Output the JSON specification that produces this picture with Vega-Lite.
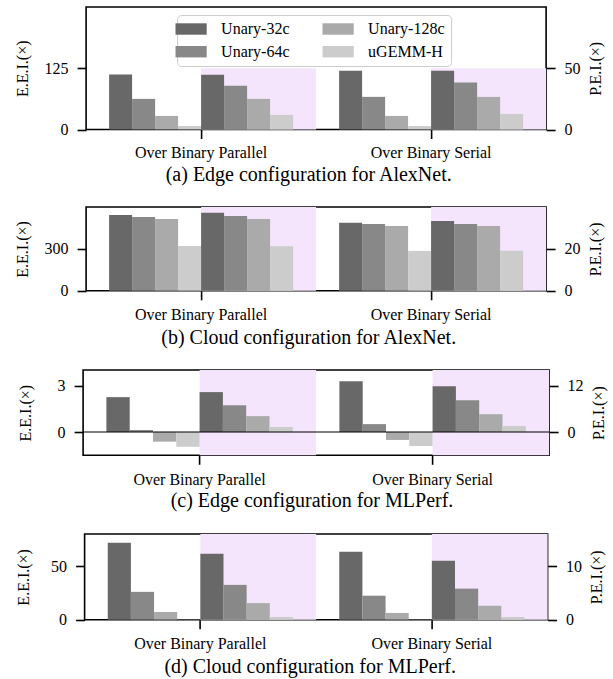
{
  "$schema": "https://vega.github.io/schema/vega-lite/v6.json",
  "padding": {"left": 13, "top": 6, "right": 5, "bottom": 5},
  "spacing": 20,
  "center": true,
  "config": {
    "font": "Liberation Serif",
    "view": {"stroke": "black", "strokeWidth": 1.6},
    "axis": {"labelFont": "Liberation Serif", "labelFontSize": 16, "labelColor": "black", "titleFont": "Liberation Serif", "titleFontSize": 16, "titleFontWeight": "normal", "titleColor": "black", "tickColor": "black", "tickWidth": 1.6, "tickSize": 9, "domain": false, "grid": false, "labelPadding": 9},
    "title": {"font": "Liberation Serif", "fontSize": 20, "fontWeight": "normal", "color": "black"},
    "legend": {"labelFont": "Liberation Serif", "labelFontSize": 16, "labelColor": "black"}
  },
  "datasets": {
    "a": [
      {"group": "Over Binary Parallel", "metric": "E.E.I.", "config": "Unary-32c", "bar": "E.E.I. Unary-32c", "value": 112},
      {"group": "Over Binary Parallel", "metric": "E.E.I.", "config": "Unary-64c", "bar": "E.E.I. Unary-64c", "value": 62.5},
      {"group": "Over Binary Parallel", "metric": "E.E.I.", "config": "Unary-128c", "bar": "E.E.I. Unary-128c", "value": 27.7},
      {"group": "Over Binary Parallel", "metric": "E.E.I.", "config": "uGEMM-H", "bar": "E.E.I. uGEMM-H", "value": 7.2},
      {"group": "Over Binary Parallel", "metric": "P.E.I.", "config": "Unary-32c", "bar": "P.E.I. Unary-32c", "value": 44.7},
      {"group": "Over Binary Parallel", "metric": "P.E.I.", "config": "Unary-64c", "bar": "P.E.I. Unary-64c", "value": 35.7},
      {"group": "Over Binary Parallel", "metric": "P.E.I.", "config": "Unary-128c", "bar": "P.E.I. Unary-128c", "value": 25},
      {"group": "Over Binary Parallel", "metric": "P.E.I.", "config": "uGEMM-H", "bar": "P.E.I. uGEMM-H", "value": 11.9},
      {"group": "Over Binary Serial", "metric": "E.E.I.", "config": "Unary-32c", "bar": "E.E.I. Unary-32c", "value": 120},
      {"group": "Over Binary Serial", "metric": "E.E.I.", "config": "Unary-64c", "bar": "E.E.I. Unary-64c", "value": 66.6},
      {"group": "Over Binary Serial", "metric": "E.E.I.", "config": "Unary-128c", "bar": "E.E.I. Unary-128c", "value": 27.7},
      {"group": "Over Binary Serial", "metric": "E.E.I.", "config": "uGEMM-H", "bar": "E.E.I. uGEMM-H", "value": 7.2},
      {"group": "Over Binary Serial", "metric": "P.E.I.", "config": "Unary-32c", "bar": "P.E.I. Unary-32c", "value": 48},
      {"group": "Over Binary Serial", "metric": "P.E.I.", "config": "Unary-64c", "bar": "P.E.I. Unary-64c", "value": 38.4},
      {"group": "Over Binary Serial", "metric": "P.E.I.", "config": "Unary-128c", "bar": "P.E.I. Unary-128c", "value": 26.6},
      {"group": "Over Binary Serial", "metric": "P.E.I.", "config": "uGEMM-H", "bar": "P.E.I. uGEMM-H", "value": 12.7}
    ],
    "b": [
      {"group": "Over Binary Parallel", "metric": "E.E.I.", "config": "Unary-32c", "bar": "E.E.I. Unary-32c", "value": 543},
      {"group": "Over Binary Parallel", "metric": "E.E.I.", "config": "Unary-64c", "bar": "E.E.I. Unary-64c", "value": 529},
      {"group": "Over Binary Parallel", "metric": "E.E.I.", "config": "Unary-128c", "bar": "E.E.I. Unary-128c", "value": 514},
      {"group": "Over Binary Parallel", "metric": "E.E.I.", "config": "uGEMM-H", "bar": "E.E.I. uGEMM-H", "value": 320},
      {"group": "Over Binary Parallel", "metric": "P.E.I.", "config": "Unary-32c", "bar": "P.E.I. Unary-32c", "value": 37.3},
      {"group": "Over Binary Parallel", "metric": "P.E.I.", "config": "Unary-64c", "bar": "P.E.I. Unary-64c", "value": 35.7},
      {"group": "Over Binary Parallel", "metric": "P.E.I.", "config": "Unary-128c", "bar": "P.E.I. Unary-128c", "value": 34.3},
      {"group": "Over Binary Parallel", "metric": "P.E.I.", "config": "uGEMM-H", "bar": "P.E.I. uGEMM-H", "value": 21.3},
      {"group": "Over Binary Serial", "metric": "E.E.I.", "config": "Unary-32c", "bar": "E.E.I. Unary-32c", "value": 488},
      {"group": "Over Binary Serial", "metric": "E.E.I.", "config": "Unary-64c", "bar": "E.E.I. Unary-64c", "value": 478},
      {"group": "Over Binary Serial", "metric": "E.E.I.", "config": "Unary-128c", "bar": "E.E.I. Unary-128c", "value": 464},
      {"group": "Over Binary Serial", "metric": "E.E.I.", "config": "uGEMM-H", "bar": "E.E.I. uGEMM-H", "value": 286},
      {"group": "Over Binary Serial", "metric": "P.E.I.", "config": "Unary-32c", "bar": "P.E.I. Unary-32c", "value": 33.3},
      {"group": "Over Binary Serial", "metric": "P.E.I.", "config": "Unary-64c", "bar": "P.E.I. Unary-64c", "value": 31.9},
      {"group": "Over Binary Serial", "metric": "P.E.I.", "config": "Unary-128c", "bar": "P.E.I. Unary-128c", "value": 30.9},
      {"group": "Over Binary Serial", "metric": "P.E.I.", "config": "uGEMM-H", "bar": "P.E.I. uGEMM-H", "value": 19.1}
    ],
    "c": [
      {"group": "Over Binary Parallel", "metric": "E.E.I.", "config": "Unary-32c", "bar": "E.E.I. Unary-32c", "value": 2.25},
      {"group": "Over Binary Parallel", "metric": "E.E.I.", "config": "Unary-64c", "bar": "E.E.I. Unary-64c", "value": 0.13},
      {"group": "Over Binary Parallel", "metric": "E.E.I.", "config": "Unary-128c", "bar": "E.E.I. Unary-128c", "value": -0.62},
      {"group": "Over Binary Parallel", "metric": "E.E.I.", "config": "uGEMM-H", "bar": "E.E.I. uGEMM-H", "value": -0.95},
      {"group": "Over Binary Parallel", "metric": "P.E.I.", "config": "Unary-32c", "bar": "P.E.I. Unary-32c", "value": 10.3},
      {"group": "Over Binary Parallel", "metric": "P.E.I.", "config": "Unary-64c", "bar": "P.E.I. Unary-64c", "value": 6.9},
      {"group": "Over Binary Parallel", "metric": "P.E.I.", "config": "Unary-128c", "bar": "P.E.I. Unary-128c", "value": 4.1},
      {"group": "Over Binary Parallel", "metric": "P.E.I.", "config": "uGEMM-H", "bar": "P.E.I. uGEMM-H", "value": 1.3},
      {"group": "Over Binary Serial", "metric": "E.E.I.", "config": "Unary-32c", "bar": "E.E.I. Unary-32c", "value": 3.28},
      {"group": "Over Binary Serial", "metric": "E.E.I.", "config": "Unary-64c", "bar": "E.E.I. Unary-64c", "value": 0.51},
      {"group": "Over Binary Serial", "metric": "E.E.I.", "config": "Unary-128c", "bar": "E.E.I. Unary-128c", "value": -0.51},
      {"group": "Over Binary Serial", "metric": "E.E.I.", "config": "uGEMM-H", "bar": "E.E.I. uGEMM-H", "value": -0.9},
      {"group": "Over Binary Serial", "metric": "P.E.I.", "config": "Unary-32c", "bar": "P.E.I. Unary-32c", "value": 11.8},
      {"group": "Over Binary Serial", "metric": "P.E.I.", "config": "Unary-64c", "bar": "P.E.I. Unary-64c", "value": 8.2},
      {"group": "Over Binary Serial", "metric": "P.E.I.", "config": "Unary-128c", "bar": "P.E.I. Unary-128c", "value": 4.6},
      {"group": "Over Binary Serial", "metric": "P.E.I.", "config": "uGEMM-H", "bar": "P.E.I. uGEMM-H", "value": 1.55}
    ],
    "d": [
      {"group": "Over Binary Parallel", "metric": "E.E.I.", "config": "Unary-32c", "bar": "E.E.I. Unary-32c", "value": 71.8},
      {"group": "Over Binary Parallel", "metric": "E.E.I.", "config": "Unary-64c", "bar": "E.E.I. Unary-64c", "value": 26},
      {"group": "Over Binary Parallel", "metric": "E.E.I.", "config": "Unary-128c", "bar": "E.E.I. Unary-128c", "value": 7.2},
      {"group": "Over Binary Parallel", "metric": "E.E.I.", "config": "uGEMM-H", "bar": "E.E.I. uGEMM-H", "value": 0.3},
      {"group": "Over Binary Parallel", "metric": "P.E.I.", "config": "Unary-32c", "bar": "P.E.I. Unary-32c", "value": 12.3},
      {"group": "Over Binary Parallel", "metric": "P.E.I.", "config": "Unary-64c", "bar": "P.E.I. Unary-64c", "value": 6.5},
      {"group": "Over Binary Parallel", "metric": "P.E.I.", "config": "Unary-128c", "bar": "P.E.I. Unary-128c", "value": 3.1},
      {"group": "Over Binary Parallel", "metric": "P.E.I.", "config": "uGEMM-H", "bar": "P.E.I. uGEMM-H", "value": 0.5},
      {"group": "Over Binary Serial", "metric": "E.E.I.", "config": "Unary-32c", "bar": "E.E.I. Unary-32c", "value": 63.5},
      {"group": "Over Binary Serial", "metric": "E.E.I.", "config": "Unary-64c", "bar": "E.E.I. Unary-64c", "value": 22.4},
      {"group": "Over Binary Serial", "metric": "E.E.I.", "config": "Unary-128c", "bar": "E.E.I. Unary-128c", "value": 6.3},
      {"group": "Over Binary Serial", "metric": "E.E.I.", "config": "uGEMM-H", "bar": "E.E.I. uGEMM-H", "value": 0.3},
      {"group": "Over Binary Serial", "metric": "P.E.I.", "config": "Unary-32c", "bar": "P.E.I. Unary-32c", "value": 11},
      {"group": "Over Binary Serial", "metric": "P.E.I.", "config": "Unary-64c", "bar": "P.E.I. Unary-64c", "value": 5.8},
      {"group": "Over Binary Serial", "metric": "P.E.I.", "config": "Unary-128c", "bar": "P.E.I. Unary-128c", "value": 2.6},
      {"group": "Over Binary Serial", "metric": "P.E.I.", "config": "uGEMM-H", "bar": "P.E.I. uGEMM-H", "value": 0.5}
    ],
    "pinkA": [
      {"group": "Over Binary Parallel", "side": "P.E.I.", "lo": 0, "hi": 125},
      {"group": "Over Binary Serial", "side": "P.E.I.", "lo": 0, "hi": 125}
    ],
    "pinkB": [
      {"group": "Over Binary Parallel", "side": "P.E.I.", "lo": 0, "hi": 600},
      {"group": "Over Binary Serial", "side": "P.E.I.", "lo": 0, "hi": 600}
    ],
    "pinkC": [
      {"group": "Over Binary Parallel", "side": "P.E.I.", "lo": -1.5, "hi": 4},
      {"group": "Over Binary Serial", "side": "P.E.I.", "lo": -1.5, "hi": 4}
    ],
    "pinkD": [
      {"group": "Over Binary Parallel", "side": "P.E.I.", "lo": 0, "hi": 80},
      {"group": "Over Binary Serial", "side": "P.E.I.", "lo": 0, "hi": 80}
    ],
    "zeroC": [{"level": 0}]
  },
  "vconcat": [
    {
      "width": 460, "height": 122.5,
      "title": {"text": "(a) Edge configuration for AlexNet.", "orient": "bottom", "anchor": "middle", "frame": "bounds", "offset": 4},
      "layer": [
        {"data": {"name": "pinkA"}, "mark": {"type": "bar", "color": "#f4e4fc"},
         "encoding": {
           "x": {"field": "group", "type": "nominal", "sort": null, "scale": {"paddingInner": 0, "paddingOuter": 0}, "axis": {"title": null, "labelAngle": 0, "labelPadding": 6}},
           "xOffset": {"field": "side", "type": "nominal", "scale": {"domain": ["E.E.I.", "P.E.I."], "paddingInner": 0, "paddingOuter": 0}},
           "y": {"field": "lo", "type": "quantitative", "scale": {"domain": [0, 250], "nice": false}, "axis": null},
           "y2": {"field": "hi"}}},
        {"data": {"name": "a"}, "transform": [{"filter": "datum.metric == 'E.E.I.'"}], "mark": "bar",
         "encoding": {
           "x": {"field": "group", "type": "nominal", "sort": null},
           "xOffset": {"field": "bar", "type": "nominal", "scale": {"domain": ["E.E.I. Unary-32c", "E.E.I. Unary-64c", "E.E.I. Unary-128c", "E.E.I. uGEMM-H", "P.E.I. Unary-32c", "P.E.I. Unary-64c", "P.E.I. Unary-128c", "P.E.I. uGEMM-H"], "paddingInner": 0, "paddingOuter": 1}},
           "y": {"field": "value", "type": "quantitative", "scale": {"domain": [0, 250], "nice": false}, "axis": {"orient": "left", "title": "E.E.I.(×)", "values": [0, 125], "minExtent": 51.8, "maxExtent": 51.8, "titlePadding": 4}},
           "color": {"field": "config", "type": "nominal", "scale": {"domain": ["Unary-32c", "Unary-64c", "Unary-128c", "uGEMM-H"], "range": ["#686868", "#888888", "#aaaaaa", "#cccccc"]},
             "legend": {"orient": "none", "legendX": 91, "legendY": 8, "columns": 2, "title": null, "symbolType": "M-2.6,-0.95H2.6V0.95H-2.6Z", "symbolSize": 144, "symbolStrokeWidth": 0, "symbolOpacity": 1, "labelOffset": 22, "rowPadding": 6.7, "columnPadding": 32, "padding": 6, "strokeColor": "#cccccc", "cornerRadius": 4, "fillColor": "rgba(255,255,255,0.8)"}}}},
        {"data": {"name": "a"}, "transform": [{"filter": "datum.metric == 'P.E.I.'"}], "mark": "bar",
         "encoding": {
           "x": {"field": "group", "type": "nominal", "sort": null},
           "xOffset": {"field": "bar", "type": "nominal", "scale": {"domain": ["E.E.I. Unary-32c", "E.E.I. Unary-64c", "E.E.I. Unary-128c", "E.E.I. uGEMM-H", "P.E.I. Unary-32c", "P.E.I. Unary-64c", "P.E.I. Unary-128c", "P.E.I. uGEMM-H"], "paddingInner": 0, "paddingOuter": 1}},
           "y": {"field": "value", "type": "quantitative", "scale": {"domain": [0, 100], "nice": false}, "axis": {"orient": "right", "title": "P.E.I.(×)", "values": [0, 50], "titleAngle": 270, "titleBaseline": "top", "minExtent": 37, "maxExtent": 37, "titlePadding": 4}},
           "color": {"field": "config", "type": "nominal"}}}
      ],
      "resolve": {"scale": {"y": "independent", "xOffset": "independent"}}
    },
    {
      "width": 460, "height": 83.8,
      "title": {"text": "(b) Cloud configuration for AlexNet.", "orient": "bottom", "anchor": "middle", "frame": "bounds", "offset": 5},
      "layer": [
        {"data": {"name": "pinkB"}, "mark": {"type": "bar", "color": "#f4e4fc"},
         "encoding": {
           "x": {"field": "group", "type": "nominal", "sort": null, "scale": {"paddingInner": 0, "paddingOuter": 0}, "axis": {"title": null, "labelAngle": 0, "labelPadding": 7}},
           "xOffset": {"field": "side", "type": "nominal", "scale": {"domain": ["E.E.I.", "P.E.I."], "paddingInner": 0, "paddingOuter": 0}},
           "y": {"field": "lo", "type": "quantitative", "scale": {"domain": [0, 600], "nice": false}, "axis": null},
           "y2": {"field": "hi"}}},
        {"data": {"name": "b"}, "transform": [{"filter": "datum.metric == 'E.E.I.'"}], "mark": "bar",
         "encoding": {
           "x": {"field": "group", "type": "nominal", "sort": null},
           "xOffset": {"field": "bar", "type": "nominal", "scale": {"domain": ["E.E.I. Unary-32c", "E.E.I. Unary-64c", "E.E.I. Unary-128c", "E.E.I. uGEMM-H", "P.E.I. Unary-32c", "P.E.I. Unary-64c", "P.E.I. Unary-128c", "P.E.I. uGEMM-H"], "paddingInner": 0, "paddingOuter": 1}},
           "y": {"field": "value", "type": "quantitative", "scale": {"domain": [0, 600], "nice": false}, "axis": {"orient": "left", "title": "E.E.I.(×)", "values": [0, 300], "minExtent": 51.8, "maxExtent": 51.8, "titlePadding": 4}},
           "color": {"field": "config", "type": "nominal", "scale": {"domain": ["Unary-32c", "Unary-64c", "Unary-128c", "uGEMM-H"], "range": ["#686868", "#888888", "#aaaaaa", "#cccccc"]}, "legend": null}}},
        {"data": {"name": "b"}, "transform": [{"filter": "datum.metric == 'P.E.I.'"}], "mark": "bar",
         "encoding": {
           "x": {"field": "group", "type": "nominal", "sort": null},
           "xOffset": {"field": "bar", "type": "nominal", "scale": {"domain": ["E.E.I. Unary-32c", "E.E.I. Unary-64c", "E.E.I. Unary-128c", "E.E.I. uGEMM-H", "P.E.I. Unary-32c", "P.E.I. Unary-64c", "P.E.I. Unary-128c", "P.E.I. uGEMM-H"], "paddingInner": 0, "paddingOuter": 1}},
           "y": {"field": "value", "type": "quantitative", "scale": {"domain": [0, 40], "nice": false}, "axis": {"orient": "right", "title": "P.E.I.(×)", "values": [0, 20], "titleAngle": 270, "titleBaseline": "top", "minExtent": 37, "maxExtent": 37, "titlePadding": 4}},
           "color": {"field": "config", "type": "nominal", "legend": null}}}
      ],
      "resolve": {"scale": {"y": "independent", "xOffset": "independent"}}
    },
    {
      "width": 466, "height": 85.3,
      "title": {"text": "(c) Edge configuration for MLPerf.", "orient": "bottom", "anchor": "middle", "frame": "bounds", "offset": 4},
      "layer": [
        {"data": {"name": "pinkC"}, "mark": {"type": "bar", "color": "#f4e4fc"},
         "encoding": {
           "x": {"field": "group", "type": "nominal", "sort": null, "scale": {"paddingInner": 0, "paddingOuter": 0}, "axis": {"title": null, "labelAngle": 0, "labelPadding": 7}},
           "xOffset": {"field": "side", "type": "nominal", "scale": {"domain": ["E.E.I.", "P.E.I."], "paddingInner": 0, "paddingOuter": 0}},
           "y": {"field": "lo", "type": "quantitative", "scale": {"domain": [-1.5, 4], "nice": false}, "axis": null},
           "y2": {"field": "hi"}}},
        {"data": {"name": "c"}, "transform": [{"filter": "datum.metric == 'E.E.I.'"}], "mark": "bar",
         "encoding": {
           "x": {"field": "group", "type": "nominal", "sort": null},
           "xOffset": {"field": "bar", "type": "nominal", "scale": {"domain": ["E.E.I. Unary-32c", "E.E.I. Unary-64c", "E.E.I. Unary-128c", "E.E.I. uGEMM-H", "P.E.I. Unary-32c", "P.E.I. Unary-64c", "P.E.I. Unary-128c", "P.E.I. uGEMM-H"], "paddingInner": 0, "paddingOuter": 1}},
           "y": {"field": "value", "type": "quantitative", "scale": {"domain": [-1.5, 4], "nice": false}, "axis": {"orient": "left", "title": "E.E.I.(×)", "values": [0, 3], "minExtent": 45.2, "maxExtent": 45.2, "titlePadding": 4}},
           "color": {"field": "config", "type": "nominal", "scale": {"domain": ["Unary-32c", "Unary-64c", "Unary-128c", "uGEMM-H"], "range": ["#686868", "#888888", "#aaaaaa", "#cccccc"]}, "legend": null}}},
        {"data": {"name": "c"}, "transform": [{"filter": "datum.metric == 'P.E.I.'"}], "mark": "bar",
         "encoding": {
           "x": {"field": "group", "type": "nominal", "sort": null},
           "xOffset": {"field": "bar", "type": "nominal", "scale": {"domain": ["E.E.I. Unary-32c", "E.E.I. Unary-64c", "E.E.I. Unary-128c", "E.E.I. uGEMM-H", "P.E.I. Unary-32c", "P.E.I. Unary-64c", "P.E.I. Unary-128c", "P.E.I. uGEMM-H"], "paddingInner": 0, "paddingOuter": 1}},
           "y": {"field": "value", "type": "quantitative", "scale": {"domain": [-6, 16], "nice": false}, "axis": {"orient": "right", "title": "P.E.I.(×)", "values": [0, 12], "titleAngle": 270, "titleBaseline": "top", "minExtent": 37, "maxExtent": 37, "titlePadding": 4}},
           "color": {"field": "config", "type": "nominal", "legend": null}}},
        {"data": {"name": "zeroC"}, "mark": {"type": "rule", "color": "black", "strokeWidth": 1.1},
         "encoding": {"y": {"field": "level", "type": "quantitative", "scale": {"domain": [-1.5, 4], "nice": false}, "axis": null}}}
      ],
      "resolve": {"scale": {"y": "independent", "xOffset": "independent"}}
    },
    {
      "width": 463, "height": 85.7,
      "title": {"text": "(d) Cloud configuration for MLPerf.", "orient": "bottom", "anchor": "middle", "frame": "bounds", "offset": 5},
      "layer": [
        {"data": {"name": "pinkD"}, "mark": {"type": "bar", "color": "#f4e4fc"},
         "encoding": {
           "x": {"field": "group", "type": "nominal", "sort": null, "scale": {"paddingInner": 0, "paddingOuter": 0}, "axis": {"title": null, "labelAngle": 0, "labelPadding": 7}},
           "xOffset": {"field": "side", "type": "nominal", "scale": {"domain": ["E.E.I.", "P.E.I."], "paddingInner": 0, "paddingOuter": 0}},
           "y": {"field": "lo", "type": "quantitative", "scale": {"domain": [0, 80], "nice": false}, "axis": null},
           "y2": {"field": "hi"}}},
        {"data": {"name": "d"}, "transform": [{"filter": "datum.metric == 'E.E.I.'"}], "mark": "bar",
         "encoding": {
           "x": {"field": "group", "type": "nominal", "sort": null},
           "xOffset": {"field": "bar", "type": "nominal", "scale": {"domain": ["E.E.I. Unary-32c", "E.E.I. Unary-64c", "E.E.I. Unary-128c", "E.E.I. uGEMM-H", "P.E.I. Unary-32c", "P.E.I. Unary-64c", "P.E.I. Unary-128c", "P.E.I. uGEMM-H"], "paddingInner": 0, "paddingOuter": 1}},
           "y": {"field": "value", "type": "quantitative", "scale": {"domain": [0, 80], "nice": false}, "axis": {"orient": "left", "title": "E.E.I.(×)", "values": [0, 50], "minExtent": 48.8, "maxExtent": 48.8, "titlePadding": 4}},
           "color": {"field": "config", "type": "nominal", "scale": {"domain": ["Unary-32c", "Unary-64c", "Unary-128c", "uGEMM-H"], "range": ["#686868", "#888888", "#aaaaaa", "#cccccc"]}, "legend": null}}},
        {"data": {"name": "d"}, "transform": [{"filter": "datum.metric == 'P.E.I.'"}], "mark": "bar",
         "encoding": {
           "x": {"field": "group", "type": "nominal", "sort": null},
           "xOffset": {"field": "bar", "type": "nominal", "scale": {"domain": ["E.E.I. Unary-32c", "E.E.I. Unary-64c", "E.E.I. Unary-128c", "E.E.I. uGEMM-H", "P.E.I. Unary-32c", "P.E.I. Unary-64c", "P.E.I. Unary-128c", "P.E.I. uGEMM-H"], "paddingInner": 0, "paddingOuter": 1}},
           "y": {"field": "value", "type": "quantitative", "scale": {"domain": [0, 16], "nice": false}, "axis": {"orient": "right", "title": "P.E.I.(×)", "values": [0, 10], "titleAngle": 270, "titleBaseline": "top", "minExtent": 37, "maxExtent": 37, "titlePadding": 4}},
           "color": {"field": "config", "type": "nominal", "legend": null}}}
      ],
      "resolve": {"scale": {"y": "independent", "xOffset": "independent"}}
    }
  ],
  "resolve": {"scale": {"x": "independent", "y": "independent", "color": "independent", "xOffset": "independent"}, "legend": {"color": "independent"}}
}
